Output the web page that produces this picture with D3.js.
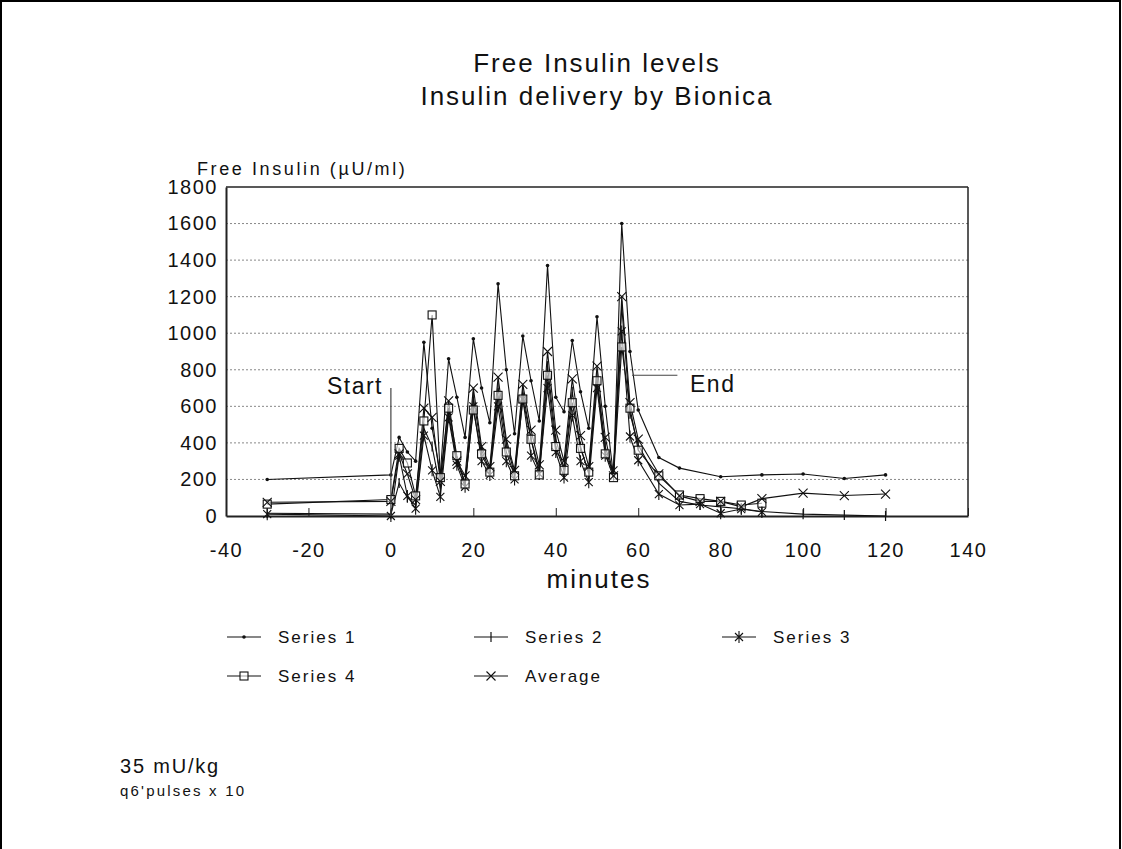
<!DOCTYPE html>
<html>
<head>
<meta charset="utf-8">
<script src="https://cdn.jsdelivr.net/npm/d3@7"></script>
<style>
  body { margin: 0; background: #fff; }
  text { font-family: "Liberation Sans", Arial, sans-serif; fill: #111; }
</style>
</head>
<body>
<svg id="chart" width="1122" height="849"></svg>
<script>
// sampling times (minutes); null = no sample for that series
const times = [-30, 0, 2, 4, 6, 8, 10, 12, 14, 16, 18, 20, 22, 24, 26, 28, 30, 32, 34, 36, 38, 40,
               42, 44, 46, 48, 50, 52, 54, 56, 58, 60, 65, 70, 75, 80, 85, 90, 100, 110, 120];

const series1 = [200, 225, 430, 350, 300, 950, 480, 230, 860, 650, 430, 970, 700, 510, 1270, 800, 450, 985, 740, 520, 1370, 650,
                 570, 960, 680, 480, 1090, 600, 220, 1600, 900, 580, 320, 262, null, 215, null, 225, 230, 205, 225];
const series2 = [15, 10, 180, 100, 60, 480, 380, 150, 560, 300, 180, 650, 360, 250, 700, 400, 230, 680, 420, 250, 820, 420,
                 260, 680, 380, 230, 760, 380, 220, 1150, 560, 390, 180, 80, 60, 50, 40, 25, 10, 5, 0];
const series3 = [10, 0, 330, 110, 40, 440, 250, 105, 540, 280, 160, 600, 300, 225, 600, 300, 200, 640, 330, 230, 700, 350,
                 210, 550, 300, 185, 700, 330, 250, 1010, 435, 305, 120, 60, 65, 15, 38, 22, null, null, null];
const series4 = [65, 90, 370, 290, 110, 520, 1100, 210, 590, 330, 175, 580, 340, 240, 660, 350, 220, 640, 420, 225, 770, 380,
                 250, 620, 370, 240, 740, 340, 210, 925, 590, 360, 220, 115, 95, 80, 60, 70, null, null, null];
const average = [75, 80, 340, 230, 90, 590, 540, 190, 630, 300, 220, 700, 380, 270, 760, 420, 250, 720, 470, 280, 900, 470,
                 300, 750, 440, 270, 820, 430, 220, 1200, 620, 420, 230, 110, 80, 80, 50, 95, 125, 112, 120];

const seriesNames = ["Series 1", "Series 2", "Series 3", "Series 4", "Average"];
const xTicks = [-40, -20, 0, 20, 40, 60, 80, 100, 120, 140];
const yTicks = [0, 200, 400, 600, 800, 1000, 1200, 1400, 1600, 1800];

const svg = d3.select("#chart");
const plotLeft = 226, plotRight = 968, plotTop = 187, plotBottom = 516;

const x = d3.scaleLinear().domain([-40, 140]).range([plotLeft, plotRight]);
const y = d3.scaleLinear().domain([0, 1800]).range([plotBottom, plotTop]);

// page frame
svg.append("path").attr("d", "M1,849 V1 H1120 V849").attr("fill", "none").attr("stroke", "#000").attr("stroke-width", 2);

// titles
svg.append("text").attr("x", 597).attr("y", 72).attr("text-anchor", "middle")
  .style("font-size", "26px").style("letter-spacing", "2px").text("Free Insulin levels");
svg.append("text").attr("x", 597).attr("y", 105).attr("text-anchor", "middle")
  .style("font-size", "26px").style("letter-spacing", "2px").text("Insulin delivery by Bionica");
svg.append("text").attr("x", 197).attr("y", 175)
  .style("font-size", "18px").style("letter-spacing", "2.6px").text("Free Insulin (\u00b5U/ml)");

// grid
svg.append("g").selectAll("line").data(yTicks.filter(d => d > 0 && d < 1800)).enter().append("line")
  .attr("x1", plotLeft).attr("x2", plotRight).attr("y1", d => y(d)).attr("y2", d => y(d))
  .attr("stroke", "#888").attr("stroke-width", 1).attr("stroke-dasharray", "2,2");

// frame of plot
svg.append("line").attr("x1", plotLeft).attr("x2", plotRight).attr("y1", plotTop).attr("y2", plotTop).attr("stroke", "#222").attr("stroke-width", 1.5);
svg.append("line").attr("x1", plotRight).attr("x2", plotRight).attr("y1", plotTop).attr("y2", plotBottom).attr("stroke", "#222").attr("stroke-width", 1.5);

// axes
const gx = svg.append("g").attr("transform", `translate(0,${plotBottom})`)
  .call(d3.axisBottom(x).tickValues(xTicks).tickFormat(d => String(d)).tickSizeInner(-8).tickSizeOuter(0).tickPadding(27));
gx.select(".domain").attr("stroke", "#222").attr("stroke-width", 2);
gx.selectAll(".tick line").attr("stroke", "#222");
gx.selectAll("text").style("font-size", "20px").style("letter-spacing", "1.5px")
  .style("font-family", "'Liberation Sans', Arial, sans-serif").attr("fill", "#111");

const gy = svg.append("g").attr("transform", `translate(${plotLeft},0)`)
  .call(d3.axisLeft(y).tickValues(yTicks).tickFormat(d => String(d)).tickSize(0).tickPadding(8));
gy.select(".domain").attr("stroke", "#222").attr("stroke-width", 2);
gy.selectAll("text").style("font-size", "20px").style("letter-spacing", "1.5px")
  .style("font-family", "'Liberation Sans', Arial, sans-serif").attr("fill", "#111");

svg.append("text").attr("x", 599).attr("y", 588).attr("text-anchor", "middle")
  .style("font-size", "26px").style("letter-spacing", "2px").text("minutes");

// marker shapes
function marker(g, kind) {
  const s = "#111";
  if (kind === 0) {
    g.append("circle").attr("r", 1.8).attr("fill", s);
  } else if (kind === 1) {
    g.append("line").attr("y1", -5).attr("y2", 5).attr("stroke", s).attr("stroke-width", 1.2);
  } else if (kind === 2) {
    g.append("path").attr("d", "M0,-6V6M-4,-4L4,4M-4,4L4,-4").attr("stroke", s).attr("stroke-width", 1.1).attr("fill", "none");
  } else if (kind === 3) {
    g.append("rect").attr("x", -4).attr("y", -4).attr("width", 8).attr("height", 8)
      .attr("fill", "#fff").attr("fill-opacity", 0.6).attr("stroke", s).attr("stroke-width", 1.1);
  } else {
    g.append("path").attr("d", "M-4.5,-4.5L4.5,4.5M-4.5,4.5L4.5,-4.5").attr("stroke", s).attr("stroke-width", 1.1).attr("fill", "none");
  }
}

const allSeries = [series1, series2, series3, series4, average];
const line = d3.line().x(d => x(d[0])).y(d => y(d[1]));

allSeries.forEach((vals, k) => {
  const pts = times.map((t, i) => [t, vals[i]]).filter(d => d[1] !== null);
  svg.append("path").datum(pts).attr("d", line)
    .attr("fill", "none").attr("stroke", "#111").attr("stroke-width", 1.1);
});
allSeries.forEach((vals, k) => {
  const pts = times.map((t, i) => [t, vals[i]]).filter(d => d[1] !== null);
  svg.append("g").selectAll("g").data(pts).enter().append("g")
    .attr("transform", d => `translate(${x(d[0])},${y(d[1])})`)
    .each(function () { marker(d3.select(this), k); });
});

// Start / End annotations
svg.append("line").attr("x1", x(0)).attr("x2", x(0)).attr("y1", y(700)).attr("y2", y(0)).attr("stroke", "#444").attr("stroke-width", 1.2);
svg.append("text").attr("x", 383).attr("y", 394).attr("text-anchor", "end")
  .style("font-size", "23px").style("letter-spacing", "1.5px").text("Start");
svg.append("line").attr("x1", x(58.5)).attr("x2", x(69.5)).attr("y1", y(770)).attr("y2", y(770)).attr("stroke", "#444").attr("stroke-width", 1.2);
svg.append("text").attr("x", 690).attr("y", 392)
  .style("font-size", "23px").style("letter-spacing", "1.5px").text("End");

// legend
const legendPos = [[227, 637], [474, 637], [722, 637], [227, 676], [474, 676]];
seriesNames.forEach((name, k) => {
  const [lx, ly] = legendPos[k];
  svg.append("line").attr("x1", lx).attr("x2", lx + 34).attr("y1", ly).attr("y2", ly).attr("stroke", "#111").attr("stroke-width", 1.1);
  marker(svg.append("g").attr("transform", `translate(${lx + 17},${ly})`), k);
  svg.append("text").attr("x", lx + 51).attr("y", ly + 6)
    .style("font-size", "17px").style("letter-spacing", "2px").text(name);
});

// notes
svg.append("text").attr("x", 120).attr("y", 773).style("font-size", "20px").style("letter-spacing", "1.8px").text("35 mU/kg");
svg.append("text").attr("x", 120).attr("y", 796).style("font-size", "15px").style("letter-spacing", "2.2px").text("q6'pulses x 10");
</script>
</body>
</html>
